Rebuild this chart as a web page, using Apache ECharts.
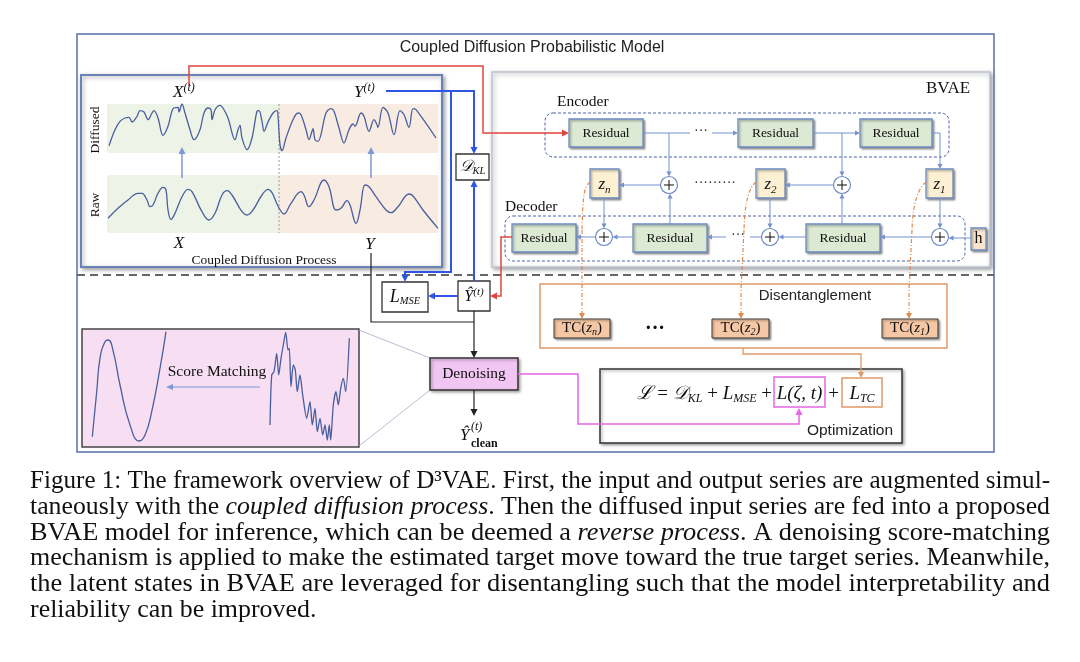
<!DOCTYPE html>
<html><head><meta charset="utf-8">
<script src="https://cdn.jsdelivr.net/npm/echarts@6/dist/echarts.min.js"></script>
<style>html,body{margin:0;padding:0;background:#fff}#c{width:1080px;height:662px}</style>
</head><body><div id="c"></div>
<script>
// ---------------- data ----------------
// panel-local units: x = px from panel left, y = px above panel bottom
const diffusedWave = [[2,7.3],[8,23.3],[13,31.7],[18,35],[22,35.7],[25,31],[30,36.7],[33,42.3],[37,41],[41,33.3],[45,40],[47,42.3],[51,35],[56,17.7],[61,26.7],[66,44.3],[71,45.7],[72,41],[75,49],[78,40],[83,23.3],[87,13.3],[93,23.3],[97,40],[101,45],[104,43.3],[105,33.3],[108,43.3],[113,47.7],[116,45],[121,35],[128,13.3],[131,23.3],[133,27.7],[135,15],[140,3.3],[145,15],[150,41.7],[152,42.3],[155,31.7],[157,21.7],[161,31],[166,40],[170,42.3],[171,36.7],[173,8.3],[175,2.3],[179,15],[186,33.3],[191,40],[194,38.3],[199,23.3],[202,13.3],[205,21.7],[206,24.3],[208,13.3],[211,11.7],[219,40],[224,44.3],[227,41.7],[232,25],[237,10],[242,23.3],[246,29],[248,26.7],[254,40],[257,36.7],[262,21.7],[267,33.3],[270,28.3],[271,25.7],[276,45.7],[281,40],[287,18.3],[293,42.3],[297,38.3],[302,25.7],[306,44.3],[309,43.3],[329,15]];
const rawWave = [[1,14.7],[11,24.7],[21,33],[31,39.7],[35,39.7],[40,33],[43,26.3],[46,28],[51,39.7],[56,45.7],[59,43],[61,23],[64,13.7],[68,19.7],[75,36.3],[81,43.7],[85,41.3],[95,21.3],[102,13],[108,19.7],[115,38],[120,42.3],[125,38],[135,21.3],[140,18],[146,23],[155,38],[161,43.7],[165,40.3],[171,27],[177,19],[184,29.7],[194,41.3],[197,38],[202,26.3],[207,33],[217,53],[222,46.3],[229,23],[234,24.7],[240,32.3],[243,28],[249,9.7],[253,23],[258,48],[262,46.3],[269,36.3],[279,23],[284,20.3],[291,26.3],[302,39],[306,37],[316,23],[331,4.7]];
const cleanWave = [[10.3,10.3],[14.7,55.3],[18,88.7],[23,105.3],[26.3,107],[31.3,95.3],[38,62],[48,22],[57.3,6],[63,12],[69.7,35.3],[78,78.7],[84,115.3]];
const noisyWave = [[188,22],[189.7,72],[192,75.3],[194.7,93.7],[196.7,72],[199,88.7],[201.3,102],[203.7,114.7],[206,97],[207.3,98.7],[209,60.3],[211.3,82],[213.3,77],[215.3,55.3],[218,72],[220.7,52],[224.7,28.7],[228,45.3],[230.3,22],[233,38.7],[235.3,15.3],[238,28.7],[240.7,12],[243,22],[245.3,7],[247.3,22],[248.7,7],[251.3,42],[254,55.3],[256.3,42],[258.7,58.7],[261.3,68.7],[263.7,55.3],[267.3,108.7]];

const captionLines = [
  [['Figure 1: The framework overview of D\u00B3VAE. First, the input and output series are augmented simul-','']],
  [['taneously with the ',''],['coupled diffusion process','i'],['. Then the diffused input series are fed into a proposed','']],
  [['BVAE model for inference, which can be deemed a ',''],['reverse process','i'],['. A denoising score-matching','']],
  [['mechanism is applied to make the estimated target move toward the true target series. Meanwhile,','']],
  [['the latent states in BVAE are leveraged for disentangling such that the model interpretability and','']],
  [['reliability can be improved.','']]
];
const encoderLabels = ['Residual','Residual','Residual'];
const decoderLabels = ['Residual','Residual','Residual'];
const latentSubs = ['n','2','1'];

// ---------------- helpers ----------------
const els = [];
const SERIF = '"Liberation Serif","DejaVu Serif",serif';
const SANS = '"Liberation Sans","DejaVu Sans",sans-serif';
const mctx = document.createElement('canvas').getContext('2d');
function mw(t, f){ mctx.font = f; return mctx.measureText(t).width; }

function R(x,y,w,h,fill,stroke,lw,o){
  o=o||{};
  const st={fill:fill||null,stroke:stroke||null,lineWidth:lw||1};
  if(o.dash) st.lineDash=o.dash;
  if(o.shadow){st.shadowBlur=o.shadow;st.shadowColor='rgba(0,0,0,0.35)';st.shadowOffsetX=1.5;st.shadowOffsetY=1.5;}
  els.push({type:'rect',z:o.z==null?5:o.z,silent:true,shape:{x:x,y:y,width:w,height:h,r:o.r||0},style:st});
}
function L(pts,color,lw,dash,z){
  const st={stroke:color,lineWidth:lw||1,fill:null};
  if(dash) st.lineDash=dash;
  els.push({type:'polyline',z:z==null?6:z,silent:true,shape:{points:pts},style:st});
}
function A(pts,color,lw,o){
  o=o||{};
  const hl=o.hl||6, hw=o.hw||3, n=pts.length;
  const p1=pts[n-2], p2=pts[n-1];
  const d=Math.hypot(p2[0]-p1[0],p2[1]-p1[1]);
  const ux=(p2[0]-p1[0])/d, uy=(p2[1]-p1[1])/d;
  const bx=p2[0]-ux*hl, by=p2[1]-uy*hl;
  L(pts.slice(0,n-1).concat([[bx+ux*0.5,by+uy*0.5]]),color,lw,o.dash,o.z);
  els.push({type:'polygon',z:o.z==null?6:o.z,silent:true,shape:{points:[[p2[0],p2[1]],[bx-uy*hw,by+ux*hw],[bx+uy*hw,by-ux*hw]]},style:{fill:color}});
}
function T(x,y,str,font,color,align,extra){
  const a=align||'left';
  els.push(Object.assign({type:'text',z:7,silent:true,style:{x:x,y:y,text:str,font:font,fill:color||'#111',align:a,textAlign:a,verticalAlign:'middle',textVerticalAlign:'middle'}},extra||{}));
}
function seqWidth(pieces){let t=0;pieces.forEach(p=>{t+=mw(p[0],p[1]);});return t;}
function M(x,y,pieces,align,color){
  const tot=seqWidth(pieces);
  let cx = align==='center' ? x-tot/2 : (align==='right' ? x-tot : x);
  pieces.forEach(p=>{ T(cx,y+(p[2]||0),p[0],p[1],color||'#111','left'); cx+=mw(p[0],p[1]); });
}
function plus(cx,cy){
  els.push({type:'circle',z:6,silent:true,shape:{cx:cx,cy:cy,r:8.5},style:{fill:'#fff',stroke:'#6b8ac2',lineWidth:1.2}});
  L([[cx-5,cy],[cx+5,cy]],'#222',1.1,null,7);
  L([[cx,cy-5],[cx,cy+5]],'#222',1.1,null,7);
}
const it = s=>'italic '+s+'px '+SERIF;
const rm = s=>s+'px '+SERIF;

// ---------------- frames ----------------
R(77,34,917,418,null,'#5b6fa6',1.5,{z:2});
T(532,48,'Coupled Diffusion Probabilistic Model','16px '+SANS,'#222','center');
R(81,75,361,192,'#fff','#6a82b5',2,{z:0,shadow:4});
R(492,72,498,195,'#fff','#bcc3d0',1.5,{z:0,shadow:4});
L([[77,275],[994,275]],'#666',2,[8,5],3);

// ---------------- coupled diffusion panels ----------------
R(107,104,172,49,'#edf3e6',null,0,{z:1});
R(279,104,159,49,'#f7ebe2',null,0,{z:1});
R(107,175,172,58,'#edf3e6',null,0,{z:1});
R(279,175,159,58,'#f7ebe2',null,0,{z:1});
L([[279,104],[279,233]],'#9a9a9a',1,[2,2],1);
A([[182,178],[182,147]],'#7c98d6',1.5,{hl:7,hw:3.5});
A([[371,178],[371,147]],'#7c98d6',1.5,{hl:7,hw:3.5});
M(173,93,[['X',it(17)],['(t)',it(12),-5]]);
M(354,93,[['Y',it(17)],['(t)',it(12),-5]]);
T(179,244,'X',it(17),'#111','center');
T(370,245,'Y',it(17),'#111','center');
T(264,260,'Coupled Diffusion Process',rm(13.5),'#111','center');
T(0,0,'Diffused',rm(13.5),'#111','center',{x:95,y:130,rotation:Math.PI/2});
T(0,0,'Raw',rm(13.5),'#111','center',{x:95,y:205,rotation:Math.PI/2});

// ---------------- links left/middle ----------------
A([[189,85],[189,66],[483,66],[483,133],[569,133]],'#e0463e',1.5,{hl:7,hw:3.5});
const BL='#2f55e4';
A([[386,91],[474,91],[474,154]],BL,2,{hl:7,hw:3.5});
A([[451,91],[451,272],[405,272],[405,282]],BL,2,{hl:7,hw:3.5});
A([[474,281],[474,180]],BL,2,{hl:7,hw:3.5});
A([[458,296],[428,296]],BL,2,{hl:7,hw:3.5});
R(456,154,33,26,'#fff','#333',1.3);
M(472.5,167,[['\uD835\uDC9F',it(16)],['KL',it(10.5),4]],'center');
R(382,282,46,30,'#fff','#333',1.3);
M(405,297,[['L',it(18)],['MSE',it(10.5),4]],'center');
R(458,281,32,30,'#fff','#333',1.3);
M(474,297,[['\u0176',it(16)],['(t)',it(11),-5]],'center');
A([[512,237],[501,237],[501,296],[490,296]],'#e0463e',1.5,{hl:7,hw:3.5});
L([[371,253],[371,322],[474,322]],'#222',1.2);
A([[474,311],[474,358]],'#222',1.2,{hl:7,hw:3.5});
A([[474,390],[474,416]],'#222',1.2,{hl:7,hw:3.5});
R(430,358,88,32,'#f2c6f2','#333',1.5,{shadow:3});
T(474,374,'Denoising',rm(15.5),'#111','center');
M(460,436,[['\u0176',it(17)]]);
T(471,427,'(t)',it(12),'#111','left');
T(471,444,'clean','bold 12px '+SERIF,'#111','left');

// score matching inset
R(82,329,277,118,'#f7def3','#444',1.5,{z:1});
L([[359,330],[430,358]],'#a9a9c9',0.8,null,1);
L([[359,446],[430,390]],'#a9a9c9',0.8,null,1);
T(217,372,'Score Matching',rm(15.5),'#111','center');
A([[260,387],[166,387]],'#7c98d6',1,{hl:7,hw:3});

// magenta
A([[518,374],[578,374],[578,424],[799,424],[799,408]],'#e765e8',1.5,{hl:7,hw:3.5});

// ---------------- BVAE ----------------
T(926,89,'BVAE',rm(17),'#111','left');
T(557,102,'Encoder',rm(15.5),'#111','left');
T(505,207,'Decoder',rm(15.5),'#111','left');
R(545,113,404,44,null,'#4a64a6',1,{r:8,dash:[3,2],z:3});
R(505,216,460,45,null,'#4a64a6',1,{r:8,dash:[3,2],z:3});
const GF='#dce9d3', BS='#6b8ac2';
const encBoxes=[[569,74],[738,75],[860,72]];
encBoxes.forEach((b,i)=>{R(b[0],119,b[1],28,GF,BS,1.3,{shadow:2});T(b[0]+b[1]/2,133,encoderLabels[i],rm(13.5),'#111','center');});
const decBoxes=[[512,64],[633,74],[806,74]];
decBoxes.forEach((b,i)=>{R(b[0],224,b[1],28,GF,BS,1.3,{shadow:2});T(b[0]+b[1]/2,238,decoderLabels[i],rm(13.5),'#111','center');});
const zBoxes=[[590,29],[756,29],[926,27]];
zBoxes.forEach((b,i)=>{R(b[0],169,b[1],29,'#fdf0d3',BS,1.3,{shadow:2});M(b[0]+b[1]/2,185,[['z',it(17)],[latentSubs[i],it(11),5]],'center');});
R(971,228,15,22,'#fbe5cf',BS,1.3,{shadow:2});
T(978.5,239,'h',rm(16),'#111','center');
const LC='#7591cf';
L([[643,133],[690,133]],LC,1);
T(701,131,'\u00B7\u00B7\u00B7','14px '+SERIF,'#333','center');
A([[712,133],[738,133]],LC,1,{hl:5,hw:2.5});
A([[669,133],[669,176.5]],LC,1,{hl:5,hw:2.5});
A([[813,133],[860,133]],LC,1,{hl:5,hw:2.5});
A([[842,133],[842,176.5]],LC,1,{hl:5,hw:2.5});
A([[932,133],[940,133],[940,169]],LC,1,{hl:5,hw:2.5});
A([[660.5,185],[619,185]],LC,1,{hl:5,hw:2.5});
A([[833.5,185],[785,185]],LC,1,{hl:5,hw:2.5});
T(715,183,'\u00B7\u00B7\u00B7\u00B7\u00B7\u00B7\u00B7\u00B7\u00B7','14px '+SERIF,'#333','center');
A([[604,198],[604,228.5]],LC,1,{hl:5,hw:2.5});
A([[770,198],[770,228.5]],LC,1,{hl:5,hw:2.5});
A([[940,198],[940,228.5]],LC,1,{hl:5,hw:2.5});
A([[971,238],[948.5,238]],LC,1,{hl:5,hw:2.5});
A([[931.5,237],[880,237]],LC,1,{hl:5,hw:2.5});
A([[806,237],[778.5,237]],LC,1,{hl:5,hw:2.5});
L([[761.5,237],[750,237]],LC,1);
T(738,235,'\u00B7\u00B7\u00B7','14px '+SERIF,'#333','center');
A([[726,237],[707,237]],LC,1,{hl:5,hw:2.5});
A([[633,237],[612.5,237]],LC,1,{hl:5,hw:2.5});
A([[595.5,237],[576,237]],LC,1,{hl:5,hw:2.5});
A([[670,224],[670,193.5]],LC,1,{hl:5,hw:2.5});
A([[842,224],[842,193.5]],LC,1,{hl:5,hw:2.5});
plus(669,185);plus(842,185);plus(604,237);plus(770,237);plus(940,237);

// orange dash-dot links
const OR='#e08a50', DD=[4,2,1,2];
[[590,582,582],[756,744,741],[926,912,909]].forEach(c=>{
  els.push({type:'bezierCurve',z:6,silent:true,shape:{x1:c[0],y1:182,cpx1:c[0]-7,cpy1:188,cpx2:c[1]+1,cpy2:200,x2:c[1],y2:230},style:{stroke:OR,lineWidth:1.2,fill:null,lineDash:DD}});
  A([[c[1],230],[c[2],290],[c[2],319]],OR,1.2,{hl:6,hw:3,dash:DD});
});

// ---------------- disentanglement / optimization ----------------
const OB='#e09866';
R(540,284,407,64,null,OB,1.5,{z:3});
T(815,296,'Disentanglement','15px '+SANS,'#222','center');
[[554,56],[712,57],[882,56]].forEach((b,i)=>{
  R(b[0],319,b[1],19,'#f5c7a4','#333',1,{shadow:2});
  M(b[0]+b[1]/2,328.5,[['TC(',rm(15)],['z',it(15)],[latentSubs[i],it(10),4],[')',rm(15)]],'center');
});
T(655,329,'\u00B7\u00B7\u00B7','bold 20px '+SERIF,'#111','center');
A([[743,348],[743,354],[861,354],[861,378]],OB,1.3,{hl:6,hw:3});
R(600,369,302,74,'#fff','#333',1.5,{z:3,shadow:3});
T(850,431,'Optimization','15.5px '+SANS,'#222','center');
R(774,377,51,30,null,'#e765e8',1.5);
R(842,378,40,29,null,OB,1.5);
const fy=394;
M(772,fy,[['\u2112',it(19)],[' = ',rm(19)],['\uD835\uDC9F',it(19)],['KL',it(12),5],[' + ',rm(19)],['L',it(19)],['MSE',it(12),5],[' +',rm(19)]],'right');
T(799.5,fy,'L(\u03B6, t)',it(19),'#111','center');
T(833.5,fy,'+',rm(19),'#111','center');
M(862,fy,[['L',it(19)],['TC',it(12),5]],'center');

// ---------------- caption (justified) ----------------
(function(){
  const left=30,right=1050,size=25.5;
  const fonts={'':size+'px '+SERIF,'i':'italic '+size+'px '+SERIF};
  const sp=mw(' ',fonts['']);
  const layouts=captionLines.map(segs=>{
    const words=[];let cur=[];
    segs.forEach(s=>{const parts=s[0].split(' ');parts.forEach((p,pi)=>{if(pi>0){if(cur.length)words.push(cur);cur=[];} if(p)cur.push([p,s[1]]);});});
    if(cur.length)words.push(cur);
    const ww=words.map(w=>w.reduce((a,r)=>a+mw(r[0],fonts[r[1]]),0));
    const nat=ww.reduce((a,b)=>a+b,0)+sp*(words.length-1);
    return {words,ww,nat};
  });
  const full=layouts.slice(0,-1).map(l=>(right-left)/l.nat);
  const avgS=full.reduce((a,b)=>a+b,0)/full.length;
  layouts.forEach((l,li)=>{
    const last=li===layouts.length-1;
    const s=last?avgS:(right-left)/l.nat;
    let x=left; const y=481+25.9*li;
    l.words.forEach((w,wi)=>{
      let cx=x;
      w.forEach(r=>{T(0,0,r[0],fonts[r[1]],'#111','left',{x:cx,y:y,scaleX:s});cx+=mw(r[0],fonts[r[1]])*s;});
      x+=(l.ww[wi]+sp)*s;
    });
  });
})();

// ---------------- chart ----------------
const chart = echarts.init(document.getElementById('c'),null,{renderer:'canvas'});
const gridDefs=[{left:107,top:104,width:331,height:49},{left:107,top:175,width:331,height:58},{left:82,top:329,width:277,height:118}];
const xMax=[331,331,277], yMax=[49,58,118];
function lineSeries(data,g,sm){return {type:'line',xAxisIndex:g,yAxisIndex:g,data:data,showSymbol:false,smooth:sm,silent:true,z:3,lineStyle:{color:'#4a5f9e',width:1.3}};}
chart.setOption({
  animation:false,
  backgroundColor:'#fff',
  grid:gridDefs,
  xAxis:gridDefs.map((g,i)=>({type:'value',gridIndex:i,min:0,max:xMax[i],show:false})),
  yAxis:gridDefs.map((g,i)=>({type:'value',gridIndex:i,min:0,max:yMax[i],show:false})),
  series:[lineSeries(diffusedWave,0,0.35),lineSeries(rawWave,1,0.4),lineSeries(cleanWave,2,0.5),lineSeries(noisyWave,2,0.25)],
  graphic:{elements:els}
});
</script></body></html>
